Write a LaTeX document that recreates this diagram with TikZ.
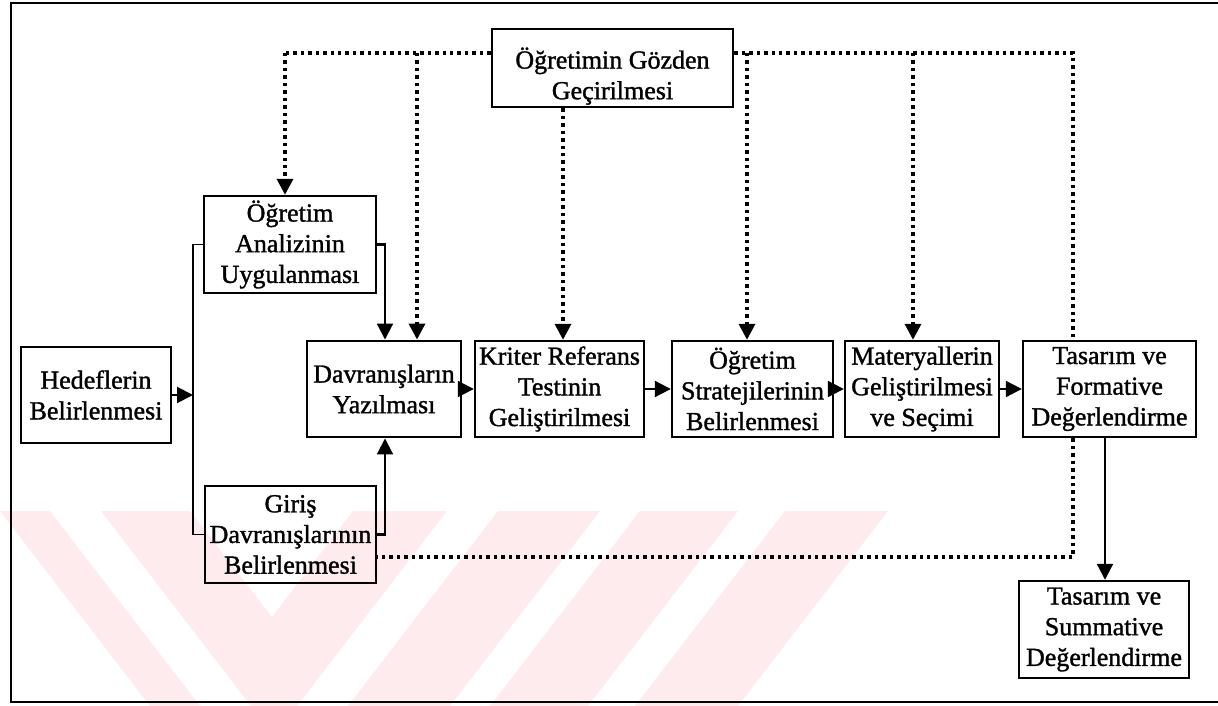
\documentclass[tikz,border=0pt]{standalone}
\usepackage{fontspec}
\setmainfont{Liberation Serif}[FakeBold=1.3]
\usetikzlibrary{arrows.meta}
\definecolor{wmpink}{RGB}{253,235,238}
\begin{document}
\begin{tikzpicture}[x=0.75pt,y=-0.75pt,
  box/.style={draw, line width=1.8pt, align=center, inner sep=1pt,
              font=\fontsize{19.5}{23}\selectfont},
  arr/.style={line width=1.6pt, -{Triangle[length=12pt,width=12pt]}},
  link/.style={line width=1.2pt},
  fb/.style={line width=2.6pt, dash pattern=on 2.6pt off 3pt},
  fbarr/.style={fb, -{Triangle[length=12pt,width=12pt]}},
]
\useasboundingbox (0,0) rectangle (1218,706);

% pale background stamp
\begin{scope}
  \clip (0,511) rectangle (1218,706);
  \fill[wmpink] (0,511) -- (50,511) -- (200,706) -- (150,706) -- cycle;
  \fill[wmpink] (101,511) -- (190,511) -- (272,617) -- (353,511) -- (447,511)
                -- (297,706) -- (251,706) -- cycle;
  \fill[wmpink] (498,511) -- (600,511) -- (450,706) -- (348,706) -- cycle;
  \fill[wmpink] (640,511) -- (738,511) -- (588,706) -- (490,706) -- cycle;
  \fill[wmpink] (785,511) -- (888,511) -- (738,706) -- (635,706) -- cycle;
\end{scope}

% outer frame
\draw[line width=1.6pt] (1218,3) -- (11,3) -- (11,702) -- (1218,702);

% boxes
\node[box, minimum width=180.75pt, minimum height=58.5pt] (gozden) at (612.5,68)
  {\rule{0pt}{28pt}Öğretimin Gözden\\Geçirilmesi};
\node[box, minimum width=129pt, minimum height=72.75pt] (analiz) at (290,244.5)
  {Öğretim\\Analizinin\\Uygulanması};
\node[box, line width=2.2pt, minimum width=112.5pt, minimum height=72pt] (hedef) at (96,395)
  {Hedeflerin\\Belirlenmesi};
\node[box, minimum width=128.25pt, minimum height=72.75pt] (giris) at (290.5,534.5)
  {Giriş\\Davranışlarının\\Belirlenmesi};
\node[box, line width=2.2pt, minimum width=115.5pt, minimum height=72pt] (davr) at (384,389)
  {Davranışların\\Yazılması};
\node[box, minimum width=126.75pt, minimum height=72pt] (kriter) at (559.5,389)
  {Kriter Referans\\Testinin\\Geliştirilmesi};
\node[box, minimum width=120.75pt, minimum height=72pt] (strat) at (752.5,389)
  {Öğretim\\Stratejilerinin\\Belirlenmesi};
\node[box, minimum width=115.5pt, minimum height=72pt] (mater) at (922,389)
  {Materyallerin\\Geliştirilmesi\\ve Seçimi};
\node[box, minimum width=129.75pt, minimum height=72pt] (form) at (1109.5,389)
  {Tasarım ve\\Formative\\Değerlendirme};
\node[box, minimum width=127.5pt, minimum height=72.75pt] (summ) at (1104,629.5)
  {Tasarım ve\\Summative\\Değerlendirme};

% junction points
\coordinate (jl) at (193,395);
\coordinate (jr) at (385,389);
\coordinate (tl) at (285,53);
\coordinate (d1) at (417,53);
\coordinate (d2) at (563,53);
\coordinate (d3) at (747,53);
\coordinate (d4) at (913,53);
\coordinate (tr) at (1073,53);
\coordinate (br) at (1073,557);
\coordinate (dn) at (1105,389);

% main flow
\draw[arr] (hedef.east |- jl) -- (jl);
\draw[link] (analiz.west) -| (jl |- giris.west) -- (giris.west);
\draw[arr] (analiz.east) -| (jr |- davr.north);
\draw[arr] (giris.east) -| (jr |- davr.south);
\draw[arr] (davr.east) -- (kriter.west);
\draw[arr] (kriter.east) -- (strat.west);
\draw[arr] (strat.east) -- (mater.west);
\draw[arr] (mater.east) -- (form.west);
\draw[arr] (dn |- form.south) -- (dn |- summ.north);

% revision feedback
\draw[fb] (gozden.west |- tl) -- (tl);
\draw[fbarr] (tl) -- (tl |- analiz.north);
\draw[fbarr] (d1) -- (d1 |- davr.north);
\draw[fbarr] (d2 |- gozden.south) -- (d2 |- kriter.north);
\draw[fb] (gozden.east |- tr) -- (tr) -- (tr |- form.north);
\draw[fbarr] (d3) -- (d3 |- strat.north);
\draw[fbarr] (d4) -- (d4 |- mater.north);
\draw[fb] (tr |- form.south) -- (br) -- (br -| giris.east);
\end{tikzpicture}
\end{document}
